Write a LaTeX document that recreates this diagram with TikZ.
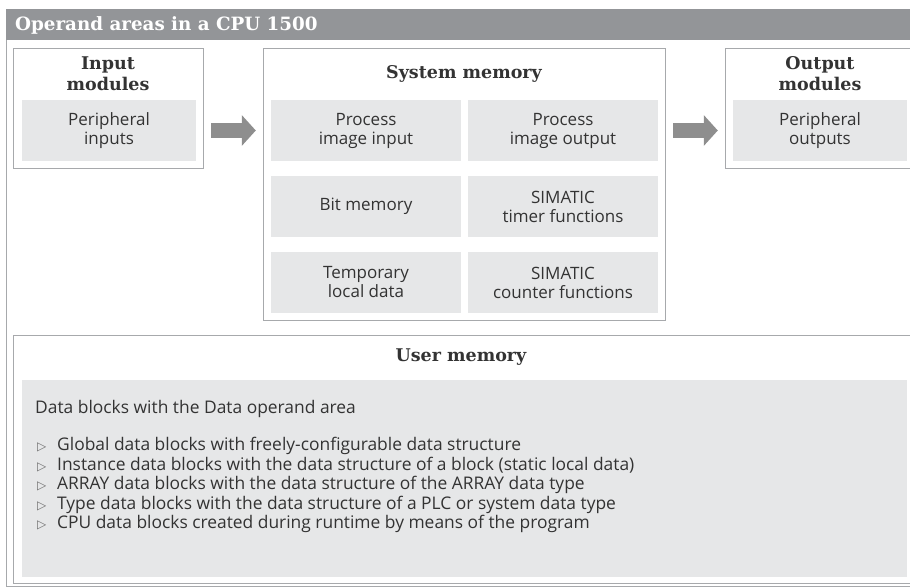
\documentclass[tikz,border=0pt]{standalone}
\usepackage{fontspec}
\setmainfont{DejaVu Serif}
\setsansfont{Open Sans}
\newfontfamily\symfont{DejaVu Sans}
\usetikzlibrary{arrows.meta,positioning}
\definecolor{bar}{HTML}{939598}
\definecolor{frame}{HTML}{A7A9AC}
\definecolor{cell}{HTML}{E6E7E8}
\definecolor{ink}{HTML}{333333}
\definecolor{arrowgray}{HTML}{8E8E8E}
\definecolor{bulgray}{HTML}{6E6E6E}
\newcommand\cellfont{\sffamily\fontsize{17}{19}\selectfont}
\newcommand\listfont{\sffamily\fontsize{17.4}{19.5}\selectfont}
\newcommand\headfont{\bfseries\fontsize{17.5}{21}\selectfont}
\newcommand\bul{\hspace*{2pt}\makebox[20pt][l]{\color{bulgray}\symfont\fontsize{12}{12}\selectfont ▷}}

\tikzset{
  framebox/.style={draw=frame,line width=1pt,anchor=north west,inner sep=0pt},
  cellbox/.style={fill=cell,minimum width=#1,minimum height=61pt,inner sep=0pt,
    font=\cellfont,text=ink,align=center},
  cellbox/.default=190pt,
  headtext/.style={font=\headfont,text=ink,align=center},
  flow/.style={draw=arrowgray,line width=15pt,-{Triangle[length=14pt,width=30pt]},
    shorten <=15pt,shorten >=15pt}
}

\begin{document}
\begin{tikzpicture}[x=1pt,y=-1pt]
\useasboundingbox (0,0) rectangle (910,588);

% title bar and outer frame
\node[fill=bar,anchor=north west,minimum width=904pt,minimum height=31pt,inner sep=0pt] (bar) at (6,9) {};
\node[anchor=west,text=white,font=\bfseries\fontsize{18.3}{22}\selectfont,inner sep=0pt] (title) at (15,25) {Operand areas in a CPU 1500};
\draw[frame,line width=1pt] (bar.south west) -- (6,586) -- (912,586);

% input modules
\node[framebox,minimum width=190pt,minimum height=120pt] (inbox) at (13,48) {};
\node[headtext] (inhead) at (108,74) {Input\\modules};
\node[cellbox=174pt] (incell) at (109,130.5) {Peripheral\\inputs};

% system memory
\node[framebox,minimum width=402pt,minimum height=272pt] (sysbox) at (263,48) {};
\node[headtext] (syshead) at (464,74) {System memory};
\node[cellbox] (pii) at (366,130.5) {Process\\image input};
\node[cellbox] (pio) at (563,130.5) {Process\\image output};
\node[cellbox] (bitmem) at (366,206.5) {Bit memory};
\node[cellbox] (timers) at (563,206.5) {SIMATIC\\timer functions};
\node[cellbox] (templd) at (366,282.5) {Temporary\\local data};
\node[cellbox] (counters) at (563,282.5) {SIMATIC\\counter functions};

% output modules
\node[framebox,minimum width=190pt,minimum height=120pt] (outbox) at (725,48) {};
\node[headtext] (outhead) at (820,74) {Output\\modules};
\node[cellbox=174pt] (outcell) at (820,130.5) {Peripheral\\outputs};

\draw[flow] (incell.east) -- (pii.west);
\draw[flow] (pio.east) -- (outcell.west);

% user memory
\node[framebox,minimum width=903pt,minimum height=248pt] (userbox) at (13,335) {};
\node[headtext] (userhead) at (461,357) {User memory};
\node[fill=cell,anchor=north west,minimum width=885pt,minimum height=197pt,inner sep=0pt] (usercell) at (22,380) {};
\node[anchor=north west,align=left,font=\listfont,text=ink,inner sep=0pt] (udata) at (35,400) {%
Data blocks with the Data operand area\\[18pt]
\bul Global data blocks with freely-configurable data structure\\
\bul Instance data blocks with the data structure of a block (static local data)\\
\bul ARRAY data blocks with the data structure of the ARRAY data type\\
\bul Type data blocks with the data structure of a PLC or system data type\\
\bul CPU data blocks created during runtime by means of the program};
\end{tikzpicture}
\end{document}
